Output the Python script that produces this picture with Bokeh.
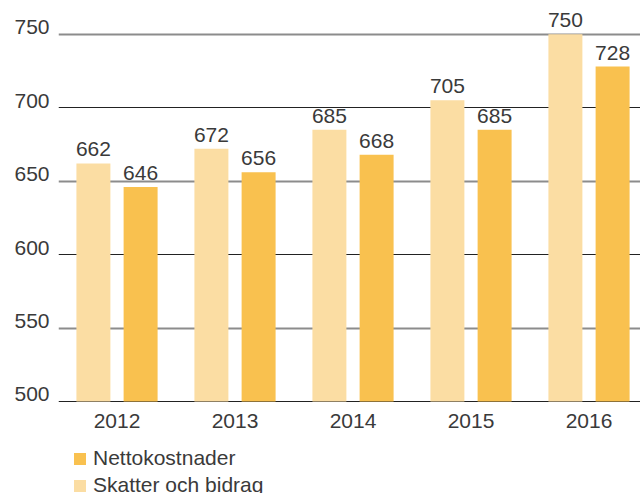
from bokeh.plotting import figure
from bokeh.models import (ColumnDataSource, Range1d, FixedTicker, LinearAxis, Grid,
                          Legend, LegendItem)
from bokeh.core.properties import value
from bokeh.transform import dodge
from bokeh.embed import file_html
from bokeh.resources import INLINE

years = ["2012", "2013", "2014", "2015", "2016"]
skatter = [662, 672, 685, 705, 750]
netto = [646, 656, 668, 685, 728]
y_ticks = [500, 550, 600, 650, 700, 750]

FONT = "Liberation Sans"
TXT = "#3a3a3a"
LIGHT = "#FBDDA3"
DARK = "#F9C14F"
BASE = 500

idx = list(range(len(years)))
src = ColumnDataSource(dict(
    x=idx,
    base=[BASE] * len(years),
    year=years,
    skatter=skatter,
    netto=netto,
    skatter_lbl=[str(v) for v in skatter],
    netto_lbl=[str(v) for v in netto],
))

Y0, Y1 = 437.38, 772.94
p = figure(width=640, height=493, output_backend="svg", toolbar_location=None,
           x_range=Range1d(-0.4958, 4.4364), y_range=Range1d(Y0, Y1),
           x_axis_location=None, y_axis_location=None,
           min_border_left=58, min_border_right=0,
           min_border_top=0, min_border_bottom=0)
p.outline_line_color = None
p.xgrid.visible = False
p.ygrid.visible = False

# grids: alternating gray / dark lines
p.add_layout(Grid(dimension=1, ticker=FixedTicker(ticks=[550, 650, 750]),
                  grid_line_color="#8c8c8c", grid_line_width=2))
p.add_layout(Grid(dimension=1, ticker=FixedTicker(ticks=[500, 600, 700]),
                  grid_line_color="#222222", grid_line_width=1))

# y-axis labels (range shifted so labels sit just above their lines)
shift = 4.8
p.extra_y_ranges = {"lab": Range1d(Y0 - shift, Y1 - shift)}
yax = LinearAxis(y_range_name="lab", ticker=FixedTicker(ticks=y_ticks))
yax.axis_line_color = None
yax.major_tick_line_color = None
yax.minor_tick_line_color = None
yax.major_tick_out = 0
yax.major_label_standoff = 9
yax.major_label_text_font = FONT
yax.major_label_text_font_size = "21px"
yax.major_label_text_color = TXT
p.add_layout(yax, "left")

off = 0.2
w = 0.288
r_light = p.vbar(x=dodge("x", -off), top="skatter", bottom="base", width=w, source=src,
                 fill_color=LIGHT, line_color=None)
r_dark = p.vbar(x=dodge("x", off), top="netto", bottom="base", width=w, source=src,
                fill_color=DARK, line_color=None)

for col, lbl, o in (("skatter", "skatter_lbl", -off), ("netto", "netto_lbl", off)):
    p.text(x=dodge("x", o), y=col, text=lbl, source=src, text_align="center",
           text_baseline="alphabetic", y_offset=-14, text_font=value(FONT),
           text_font_size="21px", text_color=TXT)

# category labels under the baseline
p.text(x="x", y="base", text="year", source=src, text_align="center",
       text_baseline="alphabetic", y_offset=20, text_font=value(FONT),
       text_font_size="21px", text_color=TXT)

legend = Legend(items=[LegendItem(label="Nettokostnader", renderers=[r_dark]),
                       LegendItem(label="Skatter och bidrag", renderers=[r_light])],
                location=(14, -4), orientation="vertical")
legend.glyph_width = 15
legend.glyph_height = 15
legend.label_standoff = 6
legend.spacing = 3
legend.padding = 0
legend.margin = 0
legend.border_line_color = None
legend.background_fill_alpha = 0
legend.label_text_font = FONT
legend.label_text_font_size = "21px"
legend.label_text_color = TXT
p.add_layout(legend, "center")

open("out.html", "w").write(file_html(p, INLINE))
